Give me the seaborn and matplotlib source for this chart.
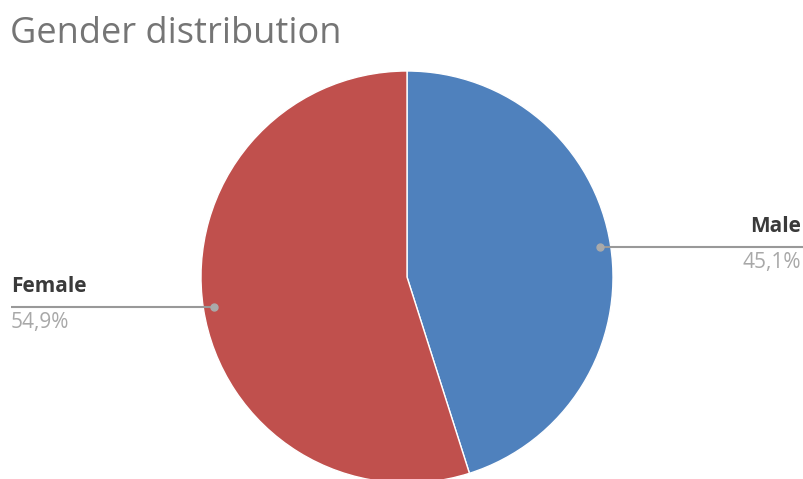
import numpy as np
import matplotlib
matplotlib.use('Agg')
import matplotlib.pyplot as plt
import seaborn as sns

# Data
genders = ['Male', 'Female']
shares = [45.1, 54.9]
pct_labels = ['45,1%', '54,9%']
colors = ['#4F81BD', '#C0504D']

sns.set_style('white')
plt.rcParams['font.family'] = ['Open Sans', 'DejaVu Sans']

W, H = 804, 479
fig = plt.figure(figsize=(W / 100, H / 100), dpi=100)
ax = fig.add_axes([0, 0, 1, 1])

cx, cy, r = 407, H - 277, 206
wedges, _ = ax.pie(shares, colors=colors, startangle=90, counterclock=False,
                   center=(cx, cy), radius=r, frame=True,
                   wedgeprops=dict(edgecolor='white', linewidth=1))
ax.set_xlim(0, W)
ax.set_ylim(0, H)
ax.set_aspect('equal')
ax.axis('off')

# Callout lines with labels
for w, name, pct in zip(wedges, genders, pct_labels):
    mid = np.deg2rad((w.theta1 + w.theta2) / 2)
    px = cx + 0.95 * r * np.cos(mid)
    py = cy + 0.95 * r * np.sin(mid)
    if np.cos(mid) > 0:
        x_end, ha, tx = W, 'right', W - 3
    else:
        x_end, ha, tx = 11, 'left', 11
    ax.plot([px, x_end], [py, py], color='#999999', lw=1.5, solid_capstyle='butt')
    ax.plot(px, py, 'o', color='#aaaaaa', ms=5)
    ax.text(tx, py + 15, name, ha=ha, va='baseline',
            fontsize=15, fontweight='bold', color='#3a3a3a')
    ax.text(tx, py - 21, pct, ha=ha, va='baseline',
            fontsize=15, color='#a8a8a8')

fig.text(10 / W, 1 - 43 / H, 'Gender distribution', fontsize=26, color='#757575',
         ha='left', va='baseline')

fig.savefig('out.png', dpi=100)
